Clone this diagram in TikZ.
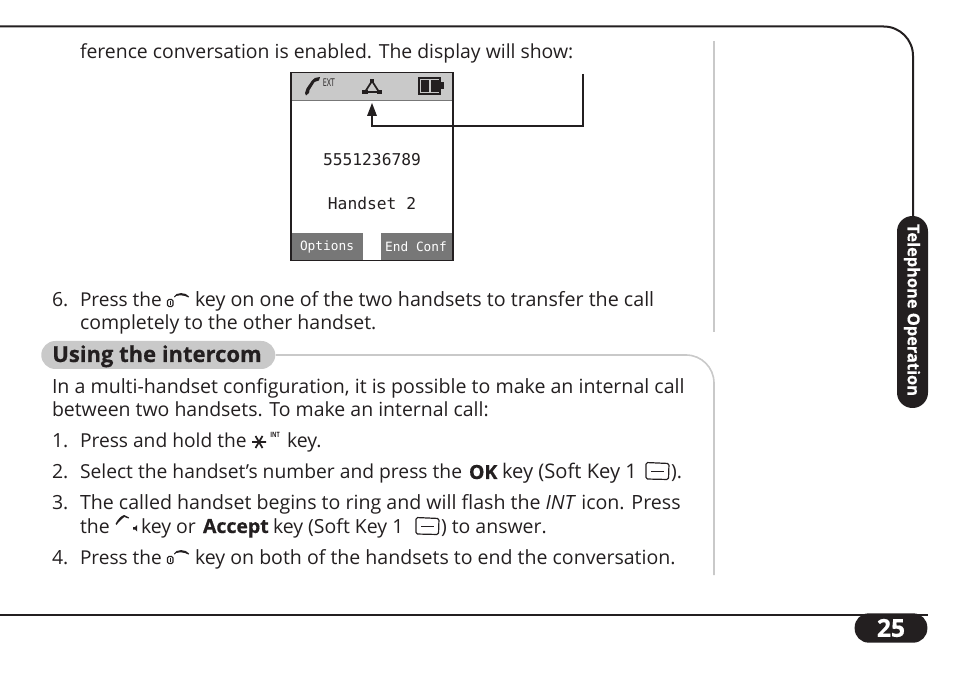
\documentclass[tikz,border=0pt]{standalone}
\usepackage{fontspec}
\setmainfont{Open Sans}
\newfontfamily\lcd{DejaVu Sans Mono}
\newfontfamily\heavy[BoldFeatures={FakeBold=0.5}]{Open Sans}
\definecolor{ink}{HTML}{231F20}
\definecolor{band}{HTML}{C9C9C9}
\definecolor{softk}{HTML}{777777}
\newcommand{\fsz}[1]{\fontsize{#1}{16}\selectfont}
\tikzset{
  body/.style={anchor=base west,inner sep=0pt,outer sep=0pt,text=ink,font=\fsz{14.6}},
  bodyb/.style={body,font=\fsz{14.6}\heavy\bfseries},
  lcdt/.style={anchor=center,inner sep=0pt,text=ink,font=\fontsize{12.2}{14}\lcd},
  lcdk/.style={anchor=center,inner sep=0pt,text=white,font=\fontsize{9.6}{11}\lcd},
  rulegrey/.style={line width=1.2pt,draw=band},
  frame/.style={line width=1.5pt,draw=ink},
  softkey/.pic={\draw[line width=0.9pt,ink,rounded corners=1.2pt] (-11.5,-8.5) -- (11.5,-7.5) -- (11,8.5) -- (-11.5,8) -- cycle;\draw[line width=1pt,ink] (-6.5,0.5)--(6.5,0.5);},
  endcall/.pic={\draw[line width=0.8pt,ink,rounded corners=1pt] (1.5,6.5) rectangle (7,13.5);\draw[line width=0.7pt,ink](4.2,8)--(4.2,12);
     \fill[ink] (8,3.5) .. controls (10,-1) and (20,-1) .. (23,3.5) -- (22.5,4.5) -- (19,3) .. controls (16,2) and (13,2) .. (10,3) -- (8.5,4.5) -- cycle;},
  callk/.pic={\fill[ink] (0.5,6) .. controls (3,1) and (6,-2) .. (9,-3) -- (10,-1.5) .. controls (8,0) and (4,3) .. (1.5,7) -- cycle;
     \fill[ink] (9,-3) -- (14,-0.5) -- (13.5,0.5) -- (9.5,-1) -- cycle;
     \fill[ink] (18,9) -- (20,9) -- (22,7) -- (22,13.5) -- (20,11.5) -- (18,11.5) -- cycle;},
}
\begin{document}
\begin{tikzpicture}[x=0.75pt,y=-0.75pt]
\useasboundingbox (0,0) rectangle (954,677);
% frame
\coordinate (fa) at (0,26.5);
\coordinate (fc) at (913,26.5);
\coordinate (fb) at (913,220);
\draw[frame,rounded corners=22pt] (fa) -- (fc) -- (fb);
% side tab
\node[fill=ink,rounded corners=11.6pt,minimum width=23.25pt,minimum height=144pt,inner sep=0pt] (tab) at (912.5,312) {};
\node[rotate=-90,text=white,inner sep=0pt,font=\fontsize{12.3}{13}\heavy\bfseries] (tabt) at (912,310) {Telephone Operation};
% bottom line and page tab
\coordinate (ba) at (0,614.5);
\node[fill=ink,rounded corners=10.5pt,minimum width=54.5pt,minimum height=22pt,inner sep=0pt] (pg) at (891,628) {};
\draw[frame] (ba) -- (pg.north east |- ba);
\node[text=white,inner sep=0pt,font=\fontsize{18.5}{19}\heavy\bfseries] (pgt) at (891,628) {25};
% vertical rule top
\coordinate (va) at (714,41);
\coordinate (vb) at (714,332);
\draw[rulegrey] (va) -- (vb);
% section band
\node[fill=band,rounded corners=10.5pt,minimum width=175.5pt,minimum height=21pt,inner sep=0pt,anchor=west] (sec) at (41,355) {};
\node[anchor=base west,inner sep=0pt,text=ink,font=\fontsize{16.5}{17}\heavy\bfseries] (sect) at (52,362) {Using the intercom};
\coordinate (sc) at (714,355);
\coordinate (se) at (714,575);
\draw[rulegrey,rounded corners=21pt] (sec.east) -- (sc) -- (se);
% text
\node[body,font=\fsz{14.54}] (t1) at (80,59) {ference conversation is enabled. The display will show:};
\node[body] (t2a) at (52,307) {6.};
\node[body,font=\fsz{14.3}] (t2b) at (80,307) {Press the};
\pic at (166,293) {endcall};
\node[body,font=\fsz{14.76}] (t2c) at (195,307) {key on one of the two handsets to transfer the call};
\node[body] (t3) at (80,330) {completely to the other handset.};
\node[body,font=\fsz{14.69}] (t4) at (52,394) {In a multi-handset configuration, it is possible to make an internal call};
\node[body] (t5) at (52,416.5) {between two handsets. To make an internal call:};
\node[body] (t6a) at (52,447) {1.};
\node[body,font=\fsz{14.4}] (t6b) at (80,447) {Press and hold the};
\draw[ink,line width=1.3pt] (252,442) -- (266,442) (255.5,436) -- (262.5,448) (262.5,436) -- (255.5,448);
\node[anchor=base west,inner sep=0pt,text=ink,font=\fontsize{5.5}{6}\selectfont\bfseries] (intk) at (270,437.5) {\scalebox{.75}[1]{INT}};
\node[body] (t6c) at (287,447) {key.};
\node[body] (t7a) at (52,479) {2.};
\node[body,font=\fsz{14.45}] (t7b) at (80,479) {Select the handset’s number and press the};
\node[bodyb] (t7c) at (469,479) {OK};
\node[body,font=\fsz{15.1}] (t7d) at (502,479) {key (Soft Key 1};
\pic at (657.5,471) {softkey};
\node[body] (t7e) at (671,479) {).};
\node[body] (t8a) at (52,509) {3.};
\node[body,font=\fsz{14.7}] (t8b) at (80,509) {The called handset begins to ring and will flash the \textit{INT} icon. Press};
\node[body] (t9a) at (80,533) {the};
\pic at (115,518) {callk};
\node[body] (t9b) at (141,533) {key or};
\node[bodyb] (t9c) at (203,533) {Accept};
\node[body] (t9d) at (273,533) {key (Soft Key 1};
\pic at (427.5,526) {softkey};
\node[body] (t9e) at (441,533) {) to answer.};
\node[body] (t10a) at (52,564) {4.};
\node[body,font=\fsz{14.3}] (t10b) at (80,564) {Press the};
\pic at (166,550) {endcall};
\node[body,font=\fsz{14.66}] (t10c) at (195,564) {key on both of the handsets to end the conversation.};
% handset display
\fill[band] (292,73) rectangle (452,100);
\fill[softk] (292,233) rectangle (363,260);
\fill[softk] (381,233) rectangle (452,260);
\draw[draw=softk,line width=1pt] (292,100.5) -- (452,100.5);
\node[draw=ink,line width=1.3pt,minimum width=121.5pt,minimum height=141pt,inner sep=0pt] (lcdbox) at (372,166.5) {};
\node[lcdt] (num) at (372,160) {5551236789};
\node[lcdt] (hs) at (372,203) {Handset 2};
\node[lcdk] (op) at (327,247) {Options};
\node[lcdk] (ec) at (416,247) {End Conf};
\node[anchor=base west,inner sep=0pt,text=ink,font=\fontsize{8}{8}\selectfont] (ext) at (322.5,86.5) {\scalebox{.68}[1]{EXT}};
% phone icon
\fill[ink] (320,77) -- (319,80.5) -- (314.5,82) -- (309.5,90) -- (309,93) -- (306,95.5) -- (305,93) -- (306.5,88.5) -- (312,80.5) -- (315,78) -- cycle;
% conference icon
\coordinate (ca) at (372,81);\coordinate (cb) at (365,92);\coordinate (cc) at (379,92);
\draw[line width=1.3pt,ink] (ca) -- (cb) -- (cc) -- cycle;
\fill[ink] (370,79) rectangle (374,83);
\fill[ink] (362,90) rectangle (367.5,94.5);
\fill[ink] (376.5,90) rectangle (382,94.5);
% battery
\draw[line width=1.3pt,ink] (419,78) rectangle (440,94);
\fill[ink] (421,80) rectangle (429,92);
\fill[ink] (431,80) rectangle (438.5,92);
\fill[ink] (440,82) rectangle (444,89.5);
% connector
\coordinate (ar1) at (583,74);
\coordinate (ar2) at (583,126);
\coordinate (ar3) at (372,126);
\coordinate (ar4) at (372,103);
\draw[line width=1.5pt,ink] (ar1) -- (ar2) -- (ar3) -- (372,112);
\fill[ink] (ar4) -- (377,116) -- (367,116) -- cycle;
\end{tikzpicture}
\end{document}
